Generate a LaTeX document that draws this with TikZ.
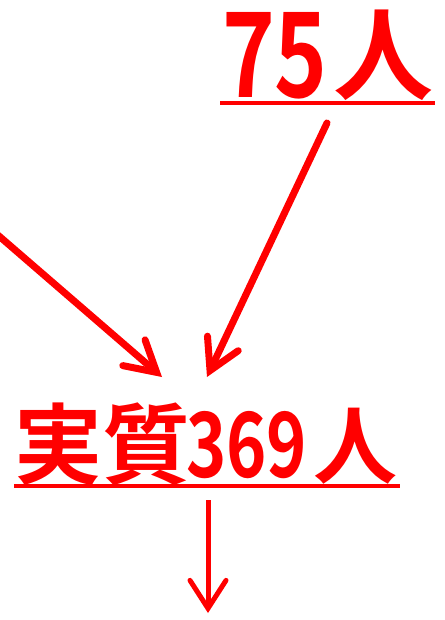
\documentclass[tikz,border=0pt]{standalone}
\usepackage{fontspec}
\usepackage{graphicx}
\usetikzlibrary{arrows.meta}
\newfontfamily\jpfont{Noto Sans CJK JP}[UprightFont=* Bold]
\definecolor{myred}{RGB}{255,0,0}
\tikzset{
  lbl/.style={inner sep=0pt, outer sep=0pt, anchor=base west, text=myred},
  uline/.style={draw=myred, line width=4pt},
  bigarrow/.style={draw=myred, line width=7pt, line cap=round,
    -{Straight Barb[length=30pt, width=34pt, line cap=round]}},
  smallarrow/.style={draw=myred, line width=5pt,
    -{Straight Barb[length=28pt, width=36pt, line cap=round]}}
}
\begin{document}
\begin{tikzpicture}[x=1pt, y=-1pt]
\useasboundingbox (0,0) rectangle (444,620);
\clip (0,0) rectangle (444,620);
\node[lbl] (t75) at (222,98) {\raisebox{0pt}[90pt][0pt]{\scalebox{0.76}[1]{\fontsize{118}{118}\selectfont\jpfont 75}\hspace{6pt}\raisebox{5pt}{\fontsize{100}{100}\selectfont\jpfont 人}}};
\draw[uline] (220,103) -- (435,103);
\node[lbl] (t369) at (14,477) {\fontsize{88}{88}\selectfont\jpfont 実質\hspace{-4pt}\scalebox{0.76}[1]{\fontsize{90}{90}\selectfont\jpfont 369}\hspace{6pt}\fontsize{84}{84}\selectfont\jpfont 人};
\draw[uline] (14,486) -- (400,486);
\coordinate (a1s) at (-8,230);
\coordinate (a1e) at (162,377);
\coordinate (a2s) at (327,123);
\coordinate (a2e) at (207,377);
\coordinate (a3s) at (208,500);
\coordinate (a3e) at (208,613);
\draw[bigarrow] (a1s) -- (a1e);
\draw[bigarrow] (a2s) -- (a2e);
\draw[smallarrow] (a3s) -- (a3e);
\end{tikzpicture}
\end{document}
